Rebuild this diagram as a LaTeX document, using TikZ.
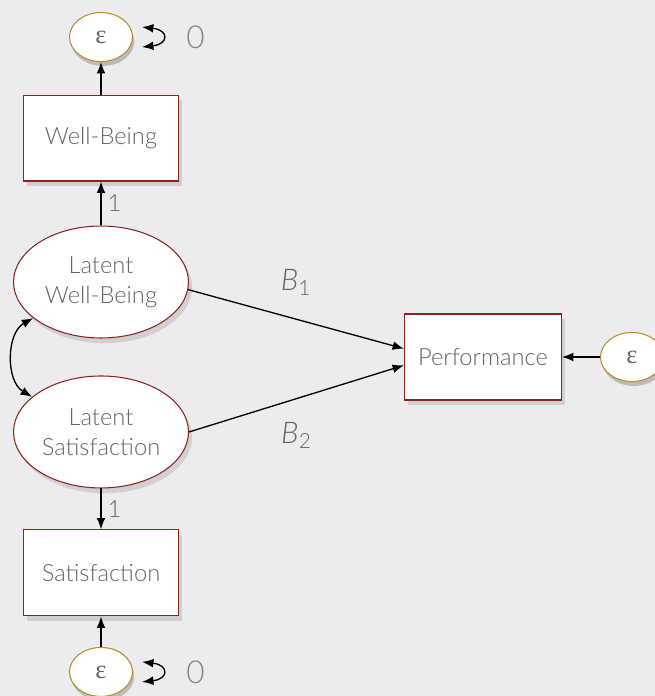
\documentclass[tikz,border=0pt]{standalone}
\usepackage{fontspec}
\setmainfont{Lato}[UprightFont=* Light, ItalicFont=* Light Italic]
\newfontfamily\epsfont{Liberation Serif}
\usepackage{tikz}
\usetikzlibrary{arrows.meta,calc,positioning,shapes.geometric,shadows}
\definecolor{bgray}{RGB}{236,236,239}
\definecolor{txtgray}{RGB}{100,100,100}
\definecolor{boxred}{RGB}{140,36,30}
\definecolor{epsgold}{RGB}{184,142,40}
\tikzset{%
	observed/.style = {draw=boxred, fill=white, rectangle, line width=0.6pt, minimum width=3.1cm, minimum height=1.72cm, text=txtgray, font=\fontsize{13.5}{17}\selectfont, drop shadow={shadow xshift=0.4ex, shadow yshift=-0.6ex, opacity=0.25}}, % measured
	latent/.style   = {draw=boxred, fill=white, ellipse, line width=0.6pt, minimum width=3.5cm, minimum height=2.24cm, inner sep=0pt, align=center, text=txtgray, font=\fontsize{13.5}{17}\selectfont, drop shadow={shadow xshift=0.4ex, shadow yshift=-0.6ex, opacity=0.25}}, % factor
	resid/.style    = {draw=epsgold, fill=white, ellipse, line width=0.6pt, minimum width=1.26cm, minimum height=0.98cm, inner sep=0pt, text=txtgray, font=\epsfont\fontsize{15}{15}\selectfont, drop shadow={shadow xshift=0.2ex, shadow yshift=-0.5ex, opacity=0.45}}, % error term
	path/.style     = {line width=0.75pt, -{Latex[length=6.5pt,width=5pt]}},
	twoway/.style   = {line width=0.75pt, {Latex[length=6.5pt,width=5pt]}-{Latex[length=6.5pt,width=5pt]}},
	lbl/.style      = {text=txtgray, font=\fontsize{13.5}{16}\selectfont},
	varlbl/.style   = {text=txtgray!80, font=\fontsize{18}{18}\selectfont},
}

\begin{document}
\begin{tikzpicture}[x=0.02cm, y=-0.02cm]
	\fill[bgray] (0,0) rectangle (655,696);
	\useasboundingbox (0,0) rectangle (655,696);

	\node[latent] (lwb) at (101,282) {Latent\\Well-Being};
	\node[latent,below of=lwb,node distance=3cm] (lsat) {Latent\\Satisfaction};
	\node[observed,above of=lwb,node distance=2.88cm] (wb) {Well-Being};
	\node[resid,above of=wb,node distance=2.02cm] (e1) {ε};
	\node[observed,below of=lsat,node distance=2.82cm] (sat) {Satisfaction};
	\node[resid,below of=sat,node distance=1.98cm] (e2) {ε};
	\node[observed,minimum width=3.14cm] (perf) at (483,357) {Performance};
	\node[resid,right of=perf,node distance=2.98cm] (e3) {ε};

	% variance loops on the residuals
	\coordinate (v1a) at ($(e1)+(41,-10)$);
	\coordinate (v1b) at ($(e1)+(41,10)$);
	\coordinate (v2a) at ($(e2)+(41,-10)$);
	\coordinate (v2b) at ($(e2)+(41,10)$);
	\draw[twoway] (v1a) .. controls ($(v1a)+(27,3)$) and ($(v1b)+(27,-3)$) .. node[right=10pt,varlbl] {0} (v1b);
	\draw[twoway] (v2a) .. controls ($(v2a)+(27,3)$) and ($(v2b)+(27,-3)$) .. node[right=10pt,varlbl] {0} (v2b);

	\draw[path] (wb) -- (e1);
	\draw[path] (e2) -- (sat);
	\draw[path] (e3) -- (perf);
	\draw[path] (lwb) -- node[right,lbl] {1} (wb);
	\draw[path] (lsat) -- node[right,lbl] {1} (sat);
	\draw[twoway] (lwb.208) to[bend right=60] (lsat.153);
	\draw[path] (lwb.355) -- node[above=10pt,lbl,font=\fontsize{17}{17}\selectfont,pos=0.5] {\textit{B}\textsubscript{1}} (perf.174);
	\draw[path] (lsat.east) -- node[below=10pt,lbl,font=\fontsize{17}{17}\selectfont,pos=0.5] {\textit{B}\textsubscript{2}} (perf.186);
\end{tikzpicture}
\end{document}
